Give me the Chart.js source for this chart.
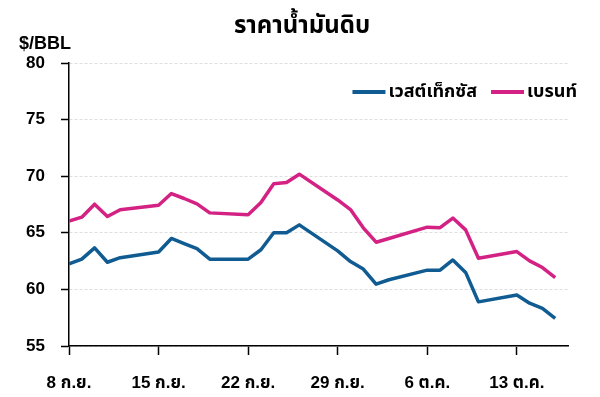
<!DOCTYPE html>
<html>
<head>
<meta charset="utf-8">
<script src="https://cdn.jsdelivr.net/npm/chart.js@4"></script>
<style>
  html, body { margin: 0; padding: 0; background: #fff; }
</style>
</head>
<body>
<canvas id="oilChart" width="600" height="397"></canvas>
<script>
// days counted from 8 Sep, trading days only
const dayOffsets = [0, 1, 2, 3, 4, 7, 8, 9, 10, 11, 14, 15, 16, 17, 18, 21, 22, 23, 24, 25, 28, 29, 30, 31, 32, 35, 36, 37, 38];
const wtiPrices = [62.25, 62.67, 63.67, 62.4, 62.8, 63.3, 64.5, 64.05, 63.6, 62.67, 62.67, 63.5, 65.0, 65.0, 65.7, 63.4, 62.46, 61.8, 60.46, 60.85, 61.7, 61.7, 62.6, 61.5, 58.9, 59.5, 58.78, 58.33, 57.45];
const brentPrices = [66.03, 66.38, 67.53, 66.44, 67.03, 67.44, 68.47, 68.03, 67.56, 66.76, 66.59, 67.68, 69.33, 69.44, 70.18, 67.9, 67.05, 65.44, 64.17, 64.5, 65.5, 65.45, 66.3, 65.26, 62.76, 63.34, 62.52, 61.93, 61.05];
const tickOffsets = [0, 7, 14, 21, 28, 35];
const tickLabels = ["8 ก.ย.", "15 ก.ย.", "22 ก.ย.", "29 ก.ย.", "6 ต.ค.", "13 ต.ค."];
const seriesNames = ["เวสต์เท็กซัส", "เบรนท์"];
const seriesColors = ["#105c92", "#d32283"];
const chartTitle = "ราคาน้ำมันดิบ";
const unitLabel = "$/BBL";

const fontFamily = "'Liberation Sans', 'Noto Sans Thai', 'Noto Sans', sans-serif";

const toPoints = (values) => values.map((v, i) => ({ x: dayOffsets[i], y: v }));

// title, unit and legend drawn on top of the chart
const headerText = {
  id: "headerText",
  afterDraw(chart) {
    const ctx = chart.ctx;
    ctx.save();
    ctx.fillStyle = "#000";
    ctx.textBaseline = "middle";
    ctx.textAlign = "center";
    ctx.font = "bold 24px " + fontFamily;
    ctx.fillText(chartTitle, 302, 26);

    ctx.textAlign = "left";
    ctx.font = "bold 18px " + fontFamily;
    ctx.fillText(unitLabel, 19, 44);

    // legend, right aligned
    ctx.font = "bold 18px " + fontFamily;
    const lineW = 33, gap = 3, itemGap = 14, legendY = 92;
    const items = chart.data.datasets.map(ds => ({
      label: ds.label,
      color: ds.borderColor,
      w: lineW + gap + ctx.measureText(ds.label).width
    }));
    const total = items.reduce((s, it) => s + it.w, 0) + itemGap * (items.length - 1);
    let x = 577 - total;
    items.forEach(it => {
      ctx.strokeStyle = it.color;
      ctx.lineWidth = 4;
      ctx.beginPath();
      ctx.moveTo(x, legendY);
      ctx.lineTo(x + lineW, legendY);
      ctx.stroke();
      ctx.fillStyle = "#000";
      ctx.fillText(it.label, x + lineW + gap, legendY);
      x += it.w + itemGap;
    });
    ctx.restore();
  }
};

const ctx = document.getElementById("oilChart").getContext("2d");

new Chart(ctx, {
  type: "line",
  data: {
    datasets: [
      {
        label: seriesNames[0],
        data: toPoints(wtiPrices),
        borderColor: seriesColors[0],
        borderWidth: 3.5,
        pointRadius: 0,
        tension: 0,
        borderJoinStyle: "round"
      },
      {
        label: seriesNames[1],
        data: toPoints(brentPrices),
        borderColor: seriesColors[1],
        borderWidth: 3.5,
        pointRadius: 0,
        tension: 0,
        borderJoinStyle: "round"
      }
    ]
  },
  options: {
    responsive: false,
    animation: false,
    layout: { padding: { top: 63, right: 32, left: 0, bottom: 0 } },
    plugins: {
      legend: { display: false },
      title: { display: false },
      tooltip: { enabled: false }
    },
    scales: {
      x: {
        type: "linear",
        min: 0,
        max: 39,
        afterBuildTicks: (scale) => { scale.ticks = tickOffsets.map(v => ({ value: v })); },
        afterFit: (scale) => { scale.height = 51; },
        ticks: {
          autoSkip: false,
          maxRotation: 0,
          padding: 18,
          color: "#000",
          font: { family: fontFamily, size: 17, weight: "bold" },
          callback: (v) => tickLabels[tickOffsets.indexOf(v)]
        },
        grid: {
          drawOnChartArea: false,
          drawTicks: true,
          tickLength: 9,
          tickColor: "#000",
          tickWidth: 1.5
        },
        border: { color: "#000", width: 1.5 }
      },
      y: {
        min: 55,
        max: 80,
        afterFit: (scale) => { scale.width = 69; },
        ticks: {
          stepSize: 5,
          padding: 16,
          color: "#000",
          font: { family: fontFamily, size: 17, weight: "bold" }
        },
        grid: {
          color: "#dedede",
          lineWidth: 1,
          tickLength: 8,
          tickColor: "#000",
          tickWidth: 1.5,
          tickBorderDash: []
        },
        border: { color: "#000", width: 1.5, dash: [3, 2] }
      }
    }
  },
  plugins: [headerText]
});
</script>
</body>
</html>
